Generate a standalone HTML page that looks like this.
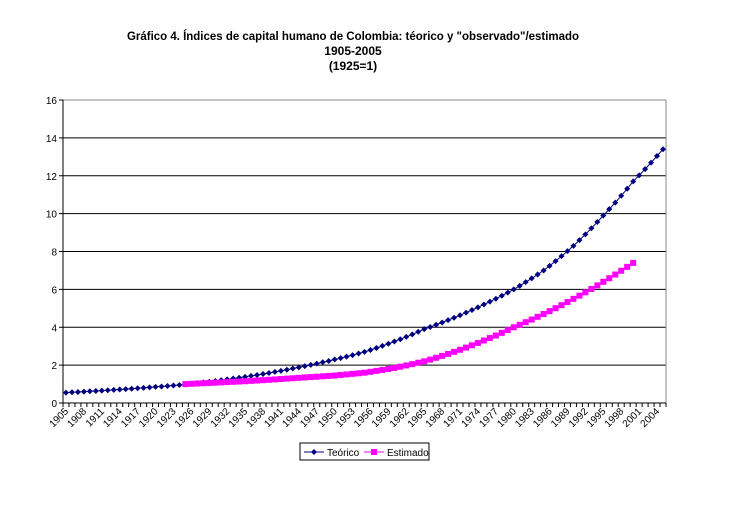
<!DOCTYPE html>
<html><head><meta charset="utf-8"><style>
html,body{margin:0;padding:0;background:#fff;}
svg text{font-family:"Liberation Sans",Arial,sans-serif;}
</style></head><body>
<svg id="s" width="741" height="502" xmlns="http://www.w3.org/2000/svg">
<rect width="741" height="502" fill="#fff"/>
<text x="353" y="40" font-size="12" font-weight="bold" text-anchor="middle" textLength="452" lengthAdjust="spacingAndGlyphs">Gráfico 4. Índices de capital humano de Colombia: téorico y "observado"/estimado</text>
<text x="353" y="55" font-size="12" font-weight="bold" text-anchor="middle">1905-2005</text>
<text x="353" y="70" font-size="12" font-weight="bold" text-anchor="middle">(1925=1)</text>
<g id="g"></g>
<rect x="300" y="443" width="129" height="17" fill="#fff" stroke="#000" stroke-width="1"/>
<line x1="304" y1="452" x2="324" y2="452" stroke="#000080"/>
<path d="M314 449 L317 452 L314 455 L311 452Z" fill="#000080"/>
<text x="327" y="456" font-size="10">Teórico</text>
<line x1="364" y1="452" x2="384" y2="452" stroke="#ff00ff"/>
<rect x="371" y="449" width="6" height="6" fill="#ff00ff"/>
<text x="387" y="456" font-size="10">Estimado</text>
</svg>
<script>
var g=document.getElementById('g'),h='';
var L=63,R=666,T=100,B=403,cw=(R-L)/101;
function Y(v){return B-v*(B-T)/16;}
function X(i){return L+cw*(i+0.5);}
for(var v=2;v<=14;v+=2)h+='<line x1="'+L+'" y1="'+Y(v)+'" x2="'+R+'" y2="'+Y(v)+'" stroke="#000" stroke-width="1"/>';
h+='<line x1="'+L+'" y1="'+T+'" x2="'+R+'" y2="'+T+'" stroke="#888"/><line x1="'+R+'" y1="'+T+'" x2="'+R+'" y2="'+B+'" stroke="#888"/>';
h+='<line x1="'+L+'" y1="'+T+'" x2="'+L+'" y2="'+B+'" stroke="#000"/><line x1="'+L+'" y1="'+B+'" x2="'+R+'" y2="'+B+'" stroke="#000"/>';
for(var v=0;v<=16;v+=2){h+='<line x1="'+(L-4)+'" y1="'+Y(v)+'" x2="'+L+'" y2="'+Y(v)+'" stroke="#000"/><text x="'+(L-6)+'" y="'+(Y(v)+4)+'" font-size="10" text-anchor="end">'+v+'</text>';}
for(var i=0;i<=101;i++){var x=L+cw*i;h+='<line x1="'+x+'" y1="'+B+'" x2="'+x+'" y2="'+(B+4)+'" stroke="#000"/>';}
for(var i=0;i<=99;i+=3){var x=X(i)+3,y=B+9;h+='<text transform="translate('+x+','+y+') rotate(-45)" font-size="10" text-anchor="end">'+(1905+i)+'</text>';}
function interp(a,yr){for(var k=0;k<a.length-1;k++){if(yr>=a[k][0]&&yr<=a[k+1][0]){var t=(yr-a[k][0])/(a[k+1][0]-a[k][0]);return Math.exp(Math.log(a[k][1])*(1-t)+Math.log(a[k+1][1])*t);}}return a[a.length-1][1];}
var th=[[1905,0.55],[1925,0.98],[1945,1.95],[1955,2.7],[1965,3.9],[1975,5.2],[1980,6.0],[1985,7.0],[1990,8.3],[1995,9.9],[2000,11.7],[2005,13.4]];
var es=[[1925,1.0],[1935,1.15],[1945,1.35],[1950,1.45],[1955,1.6],[1960,1.85],[1965,2.2],[1970,2.7],[1975,3.3],[1980,4.0],[1985,4.7],[1990,5.5],[1995,6.4],[2000,7.4]];
var p='',q='',m='';
for(var yr=1905;yr<=2005;yr++){var x=X(yr-1905),y=Y(interp(th,yr));p+=(yr==1905?'M':'L')+x.toFixed(1)+' '+y.toFixed(1);m+='<path d="M'+x+' '+(y-3)+'L'+(x+3)+' '+y+'L'+x+' '+(y+3)+'L'+(x-3)+' '+y+'Z" fill="#000080"/>';}
h+='<path d="'+p+'" fill="none" stroke="#000080"/>'+m;
m='';
for(var yr=1925;yr<=2000;yr++){var x=X(yr-1905),y=Y(interp(es,yr));q+=(yr==1925?'M':'L')+x.toFixed(1)+' '+y.toFixed(1);m+='<rect x="'+(x-3)+'" y="'+(y-3)+'" width="6" height="6" fill="#ff00ff"/>';}
h+='<path d="'+q+'" fill="none" stroke="#ff00ff"/>'+m;
g.innerHTML=h;
</script>
</body></html>
